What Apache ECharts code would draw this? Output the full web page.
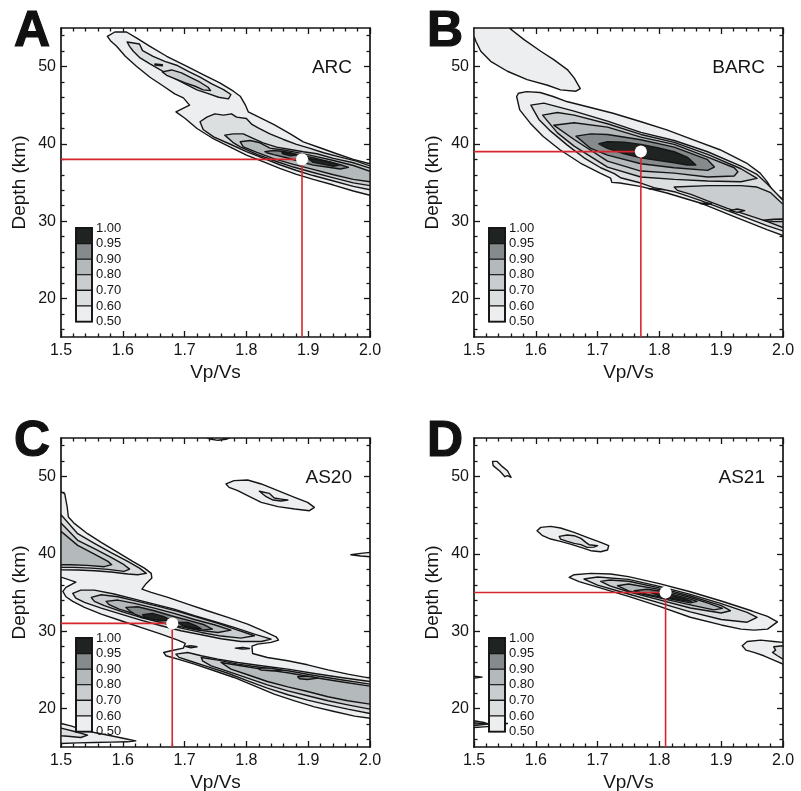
<!DOCTYPE html>
<html>
<head>
<meta charset="utf-8">
<script src="https://cdn.jsdelivr.net/npm/echarts@6/dist/echarts.min.js"></script>
<style>
html,body{margin:0;padding:0;background:#ffffff;}
#chart{width:801px;height:791px;}
</style>
</head>
<body>
<div id="chart"></div>
<script>
// ---------------- data ----------------
const LEVELS = [0.5, 0.6, 0.7, 0.8, 0.9, 0.95];
const LEVEL_COLORS = ['#eceeef', '#dcdfe0', '#c9cdcf', '#b4b9bb', '#858a8c', '#1f2321'];
const LEGEND_LABELS = ['1.00', '0.95', '0.90', '0.80', '0.70', '0.60', '0.50'];
const X_RANGE = [1.5, 2.0];
const X_STEP = 0.1;
const Y_RANGE = [15, 55];
const Y_MAJOR = [20, 30, 40, 50];
const Y_MINOR = [16, 18, 22, 24, 26, 28, 32, 34, 36, 38, 42, 44, 46, 48, 52, 54];
const PANEL_LETTERS = ['A', 'B', 'C', 'D'];
const STATIONS = ['ARC', 'BARC', 'AS20', 'AS21'];
const BEST = [[1.89, 38], [1.77, 39], [1.68, 31], [1.81, 35]];

// Panel A (ARC) contour polygons [Vp/Vs, depth]
const A_50 = [[1.575,53.92],[1.587,54.48],[1.606,54.48],[1.622,53.71],[1.644,52.63],[1.671,51.34],[1.703,50.05],[1.730,48.97],[1.757,47.89],[1.779,46.82],[1.790,46.17],[1.798,45.09],[1.803,44.15],[1.817,43.59],[1.844,42.51],[1.871,41.30],[1.892,40.27],[1.919,39.50],[1.946,38.72],[1.973,37.99],[2.0,37.43],[2.0,33.35],[1.973,33.90],[1.941,34.67],[1.908,35.40],[1.881,36.05],[1.854,36.83],[1.827,37.69],[1.800,38.55],[1.774,39.58],[1.744,40.79],[1.720,41.99],[1.701,43.29],[1.686,44.15],[1.708,45.01],[1.698,45.96],[1.684,46.47],[1.666,47.46],[1.644,48.63],[1.622,50.05],[1.604,51.34],[1.590,52.63],[1.580,53.36]];
const A_60U = [[1.607,53.19],[1.627,52.93],[1.632,52.07],[1.649,51.34],[1.668,50.69],[1.687,50.18],[1.706,49.40],[1.725,48.63],[1.744,47.76],[1.763,47.03],[1.775,46.39],[1.771,45.83],[1.755,46.04],[1.736,46.56],[1.720,46.99],[1.701,47.76],[1.682,48.54],[1.663,49.49],[1.644,50.35],[1.628,51.12],[1.617,51.99],[1.611,52.63]];
const A_70U = [[1.664,49.32],[1.679,49.57],[1.695,49.19],[1.711,48.54],[1.725,47.98],[1.738,47.33],[1.742,46.90],[1.730,46.99],[1.717,47.46],[1.701,47.89],[1.684,48.45],[1.671,48.88]];
const A_70D = [[1.652,50.35],[1.664,50.25],[1.664,50.10],[1.652,50.20]];
const A_60 = [[1.725,42.86],[1.736,43.46],[1.749,43.89],[1.763,43.72],[1.776,43.89],[1.784,43.46],[1.800,43.29],[1.809,42.51],[1.819,42.08],[1.838,41.30],[1.860,40.57],[1.881,39.93],[1.903,39.41],[1.925,38.85],[1.952,38.29],[1.978,37.77],[2.0,37.15],[2.0,34.05],[1.973,34.5],[1.941,35.2],[1.908,35.9],[1.881,36.55],[1.854,37.3],[1.827,38.15],[1.800,39.0],[1.774,39.95],[1.747,40.9],[1.730,41.86]];
const A_70 = [[1.765,41.13],[1.779,41.30],[1.795,41.30],[1.809,40.79],[1.827,40.14],[1.849,39.58],[1.871,39.28],[1.892,38.98],[1.914,38.72],[1.941,38.12],[1.973,37.56],[2.0,36.85],[2.0,34.6],[1.973,34.95],[1.941,35.6],[1.908,36.3],[1.876,37.0],[1.844,37.85],[1.817,38.65],[1.790,39.6],[1.778,40.2]];
const A_80 = [[1.790,40.27],[1.806,40.44],[1.822,40.14],[1.838,39.45],[1.860,39.2],[1.881,38.9],[1.908,38.45],[1.941,37.85],[1.973,37.2],[2.0,36.45],[2.0,35.1],[1.973,35.4],[1.941,36.0],[1.908,36.7],[1.876,37.35],[1.844,38.1],[1.817,38.9],[1.795,39.6]];
const A_90 = [[1.830,39.0],[1.844,39.15],[1.857,39.05],[1.871,38.85],[1.887,38.55],[1.908,38.2],[1.930,37.75],[1.952,37.3],[1.965,36.95],[1.952,36.75],[1.930,37.0],[1.908,37.25],[1.887,37.7],[1.865,38.2],[1.844,38.6],[1.833,38.85]];
const A_95A = [[1.857,38.95],[1.873,38.75],[1.881,38.55],[1.871,38.46],[1.859,38.72]];
const A_95B = [[1.900,38.1],[1.919,37.9],[1.935,37.65],[1.950,37.25],[1.941,37.1],[1.925,37.35],[1.908,37.6]];

// Panel B (BARC)
const B_TL = [[1.5,55],[1.557,55],[1.581,53.49],[1.608,51.99],[1.629,50.91],[1.651,49.62],[1.662,48.54],[1.672,47.16],[1.665,46.82],[1.640,46.99],[1.619,47.59],[1.586,48.32],[1.554,49.40],[1.527,50.69],[1.511,51.99],[1.503,53.28],[1.5,53.92]];
const B_50 = [[1.569,46.13],[1.572,46.56],[1.585,46.77],[1.607,46.65],[1.628,46.13],[1.650,45.48],[1.682,44.84],[1.725,43.97],[1.769,42.90],[1.812,41.82],[1.855,40.53],[1.898,39.24],[1.941,37.52],[1.963,36.22],[1.974,35.15],[1.984,33.85],[2.0,32.78],[2.0,28.13],[1.974,28.90],[1.920,30.62],[1.866,32.35],[1.812,33.64],[1.769,34.50],[1.736,34.93],[1.723,35.02],[1.721,35.58],[1.704,36.22],[1.672,37.52],[1.639,39.24],[1.612,40.96],[1.591,42.68],[1.574,44.41]];
const B_60 = [[1.592,45.01],[1.613,45.27],[1.662,44.23],[1.716,42.94],[1.770,41.48],[1.824,40.44],[1.878,38.98],[1.932,37.13],[1.958,36.05],[1.975,34.76],[2.0,32.69],[2.0,28.73],[1.974,29.42],[1.920,31.06],[1.866,32.69],[1.824,33.81],[1.791,34.33],[1.770,34.93],[1.737,35.62],[1.727,36.14],[1.705,36.91],[1.678,38.20],[1.651,39.84],[1.624,41.65],[1.605,43.16]];
const B_70 = [[1.611,43.72],[1.635,44.06],[1.662,43.72],[1.716,42.60],[1.770,41.22],[1.824,40.19],[1.878,38.63],[1.932,36.78],[1.958,35.53],[1.932,35.10],[1.878,35.19],[1.824,35.40],[1.770,35.71],[1.716,37.00],[1.662,39.71],[1.635,41.43]];
const B_70BAND = [[1.824,34.41],[1.878,34.59],[1.932,34.59],[1.958,34.41],[1.980,33.68],[2.0,32.17],[2.0,29.16],[1.975,29.94],[1.942,30.80],[1.910,31.66],[1.878,32.61],[1.851,33.47],[1.829,33.98]];
const B_80 = [[1.629,42.42],[1.662,42.73],[1.716,42.17],[1.770,40.87],[1.824,39.93],[1.878,38.29],[1.921,36.91],[1.927,36.40],[1.921,35.84],[1.878,35.71],[1.824,36.22],[1.770,36.48],[1.716,37.77],[1.662,40.57]];
const B_90 = [[1.665,41.00],[1.689,41.30],[1.716,41.22],[1.770,40.53],[1.824,39.58],[1.878,37.95],[1.889,37.00],[1.878,36.57],[1.824,36.91],[1.770,37.43],[1.716,38.55],[1.689,39.41]];
const B_95 = [[1.702,40.01],[1.716,40.27],[1.743,40.23],[1.770,39.93],[1.797,39.50],[1.824,38.98],[1.845,38.29],[1.859,37.26],[1.845,37.26],[1.824,37.56],[1.797,37.86],[1.770,38.20],[1.743,38.72],[1.716,39.41]];
const B_D1 = [[1.783,34.20],[1.796,34.18],[1.808,34.08],[1.796,34.08]];
const B_D2 = [[1.866,32.27],[1.875,32.38],[1.884,32.25],[1.875,32.15]];
const B_D3 = [[1.914,31.36],[1.926,31.57],[1.938,31.36],[1.926,31.14]];
const B_D4 = [[1.968,30.11],[1.985,30.24],[2.0,30.28],[2.0,29.94],[1.985,29.94]];

// Panel C (AS20)
const C_50 = [[1.5,48.01],[1.506,47.79],[1.510,46.07],[1.512,44.77],[1.522,43.91],[1.543,42.61],[1.565,41.49],[1.592,40.19],[1.616,39.03],[1.635,38.16],[1.646,37.47],[1.647,36.87],[1.638,36.18],[1.631,35.44],[1.646,35.01],[1.673,34.36],[1.705,33.50],[1.737,32.64],[1.770,31.77],[1.802,30.91],[1.829,29.96],[1.848,29.27],[1.852,28.84],[1.840,28.54],[1.818,28.32],[1.809,28.06],[1.810,27.11],[1.834,26.59],[1.867,26.16],[1.899,25.64],[1.932,24.99],[1.964,24.43],[2.0,23.92],[2.0,18.73],[1.975,18.99],[1.942,19.60],[1.910,20.20],[1.878,20.98],[1.845,21.84],[1.813,22.92],[1.780,24.00],[1.748,24.87],[1.716,25.73],[1.689,26.38],[1.670,26.81],[1.666,27.24],[1.678,27.46],[1.698,27.80],[1.701,28.41],[1.689,28.84],[1.662,29.62],[1.629,30.48],[1.597,31.34],[1.565,32.21],[1.538,33.07],[1.519,33.85],[1.508,34.45],[1.503,35.14],[1.508,35.66],[1.524,36.35],[1.5,37.00]];
const C_UL60 = [[1.5,45.07],[1.527,42.61],[1.554,41.36],[1.581,40.15],[1.608,39.03],[1.627,38.16],[1.638,37.47],[1.624,37.30],[1.608,37.39],[1.581,37.65],[1.554,37.82],[1.527,37.91],[1.5,37.95]];
const C_UL70 = [[1.5,43.99],[1.527,41.75],[1.554,40.67],[1.581,39.55],[1.602,38.60],[1.611,38.03],[1.602,37.73],[1.576,37.99],[1.549,38.16],[1.522,38.25],[1.5,38.25]];
const C_UL80 = [[1.5,42.91],[1.527,41.10],[1.554,39.98],[1.576,39.03],[1.582,38.60],[1.570,38.34],[1.543,38.51],[1.516,38.60],[1.5,38.60]];
const C_M60 = [[1.519,34.88],[1.532,35.31],[1.554,35.31],[1.586,34.80],[1.619,34.15],[1.651,33.50],[1.683,32.85],[1.716,31.99],[1.748,31.25],[1.780,30.48],[1.813,29.62],[1.840,28.97],[1.824,28.66],[1.791,28.66],[1.759,29.01],[1.727,29.53],[1.694,30.05],[1.662,30.70],[1.629,31.43],[1.597,32.21],[1.565,32.98],[1.538,33.72],[1.524,34.28]];
const C_M70 = [[1.549,34.36],[1.565,34.71],[1.592,34.45],[1.624,33.85],[1.656,33.24],[1.689,32.55],[1.721,31.77],[1.754,31.00],[1.786,30.13],[1.813,29.40],[1.791,29.10],[1.759,29.36],[1.727,29.83],[1.694,30.39],[1.662,31.13],[1.629,31.77],[1.597,32.55],[1.570,33.29],[1.554,33.85]];
const C_M80 = [[1.573,33.85],[1.592,34.02],[1.619,33.59],[1.651,32.98],[1.683,32.29],[1.716,31.51],[1.748,30.82],[1.775,30.13],[1.754,29.83],[1.721,30.13],[1.689,30.70],[1.656,31.34],[1.624,32.12],[1.594,32.85],[1.578,33.42]];
const C_M90 = [[1.605,33.07],[1.624,33.16],[1.651,32.64],[1.678,31.99],[1.705,31.43],[1.732,30.82],[1.745,30.26],[1.727,30.13],[1.700,30.48],[1.673,30.91],[1.646,31.43],[1.621,32.12],[1.611,32.64]];
const C_M95A = [[1.632,32.12],[1.648,32.29],[1.667,31.86],[1.678,31.43],[1.662,31.34],[1.646,31.56],[1.636,31.77]];
const C_M95B = [[1.689,31.13],[1.705,31.13],[1.718,30.70],[1.727,30.30],[1.713,30.40],[1.697,30.70]];
const C_S1 = [[1.701,28.02],[1.710,28.10],[1.720,27.97],[1.710,27.84]];
const C_S2 = [[1.782,27.80],[1.794,27.89],[1.805,27.76],[1.794,27.67]];
const C_L60 = [[1.686,27.02],[1.705,27.24],[1.727,26.81],[1.754,26.38],[1.786,25.94],[1.824,25.51],[1.867,25.08],[1.910,24.52],[1.953,24.00],[2.0,23.48],[2.0,19.34],[1.964,19.90],[1.932,20.46],[1.899,21.07],[1.867,21.76],[1.834,22.62],[1.802,23.57],[1.770,24.55],[1.737,25.40],[1.710,26.10],[1.691,26.60]];
const C_L70 = [[1.727,26.59],[1.754,26.25],[1.786,25.73],[1.824,25.30],[1.867,24.87],[1.910,24.26],[1.953,23.70],[2.0,23.14],[2.0,19.90],[1.964,20.46],[1.932,20.98],[1.899,21.63],[1.867,22.27],[1.834,23.05],[1.802,23.92],[1.770,24.78],[1.743,25.51],[1.729,26.16]];
const C_L80 = [[1.759,25.94],[1.791,25.51],[1.824,25.08],[1.867,24.61],[1.910,24.00],[1.953,23.44],[2.0,22.88],[2.0,20.55],[1.964,20.98],[1.932,21.50],[1.899,22.19],[1.867,22.79],[1.834,23.48],[1.802,24.35],[1.775,25.08]];
const C_L90A = [[1.818,25.21],[1.840,25.21],[1.857,24.95],[1.840,24.87],[1.824,24.95]];
const C_L90B = [[1.883,24.09],[1.899,24.17],[1.916,23.92],[1.899,23.74],[1.886,23.83]];
const C_UR50 = [[1.767,49.05],[1.780,49.48],[1.802,49.56],[1.824,49.05],[1.851,48.18],[1.878,47.32],[1.899,46.67],[1.910,46.02],[1.902,45.59],[1.878,45.81],[1.851,46.11],[1.824,46.67],[1.802,47.53],[1.786,48.18],[1.772,48.61]];
const C_UR60 = [[1.821,48.10],[1.837,47.84],[1.845,47.23],[1.859,47.06],[1.867,46.97],[1.856,46.84],[1.843,46.97],[1.832,47.40]];
const C_TOP = [[1.737,55],[1.772,55],[1.767,54.83],[1.754,54.70],[1.743,54.83]];
const C_RIGHT = [[1.969,39.89],[1.985,40.06],[2.0,40.19],[2.0,39.63],[1.985,39.72]];
const C_BL50 = [[1.5,18.04],[1.516,17.74],[1.532,17.31],[1.554,16.88],[1.581,16.45],[1.608,16.01],[1.621,15.80],[1.608,15.67],[1.581,15.63],[1.554,15.58],[1.527,15.54],[1.5,15.45]];
const C_BL60 = [[1.5,17.44],[1.522,17.01],[1.543,16.53],[1.532,16.23],[1.511,16.40],[1.5,16.45]];

// Panel D (AS21)
const D_50 = [[1.654,36.96],[1.662,37.30],[1.689,37.47],[1.721,37.39],[1.75,37.05],[1.80,36.15],[1.85,35.1],[1.90,33.9],[1.95,32.6],[1.975,31.9],[1.991,31.2],[1.975,30.26],[1.953,30.13],[1.932,30.26],[1.90,30.8],[1.85,31.8],[1.80,33.2],[1.75,34.5],[1.70,35.7],[1.67,36.4]];
const D_60 = [[1.678,36.74],[1.70,37.0],[1.75,36.7],[1.80,35.8],[1.85,34.75],[1.90,33.55],[1.942,32.42],[1.958,31.77],[1.942,31.15],[1.90,31.5],[1.85,32.5],[1.80,33.65],[1.75,34.8],[1.70,35.95]];
const D_70 = [[1.705,36.44],[1.72,36.62],[1.75,36.45],[1.80,35.6],[1.85,34.55],[1.90,33.3],[1.915,32.64],[1.90,32.35],[1.85,33.0],[1.80,34.05],[1.75,35.1],[1.72,35.85]];
const D_80 = [[1.732,35.88],[1.75,36.1],[1.80,35.4],[1.85,34.35],[1.88,33.6],[1.902,32.95],[1.888,32.75],[1.85,33.4],[1.80,34.3],[1.75,35.2]];
const D_90 = [[1.759,35.23],[1.78,35.42],[1.80,35.2],[1.85,34.15],[1.861,33.85],[1.85,33.65],[1.80,34.45],[1.78,34.75]];
const D_95 = [[1.786,35.0],[1.80,35.0],[1.82,34.6],[1.84,34.2],[1.852,33.85],[1.84,33.95],[1.82,34.25],[1.80,34.6]];
const D_TOP = [[1.530,51.98],[1.537,51.98],[1.546,51.29],[1.554,50.77],[1.557,50.34],[1.560,49.91],[1.554,50.12],[1.550,49.99],[1.542,50.69],[1.531,51.42]];
const D_MID50 = [[1.602,43.00],[1.608,43.43],[1.624,43.56],[1.640,43.35],[1.662,42.78],[1.683,42.14],[1.705,41.49],[1.718,41.06],[1.716,40.50],[1.705,40.28],[1.689,40.41],[1.673,40.84],[1.656,41.27],[1.640,41.62],[1.624,41.92],[1.611,42.35]];
const D_MID60 = [[1.638,42.27],[1.651,42.44],[1.662,42.35],[1.673,42.01],[1.681,41.49],[1.686,41.19],[1.700,41.06],[1.694,40.88],[1.683,40.84],[1.673,41.19],[1.662,41.36],[1.651,41.62],[1.640,41.92]];
const D_R50 = [[1.934,28.10],[1.942,28.66],[1.964,28.84],[1.985,28.66],[2.0,28.54],[2.0,25.73],[1.985,26.25],[1.969,26.81],[1.953,27.24],[1.940,27.54]];
const D_R60 = [[1.985,27.97],[2.0,28.10],[2.0,26.38],[1.991,26.81],[1.983,27.24],[1.988,27.54]];
const D_BL50 = [[1.5,18.39],[1.516,18.17],[1.524,17.96],[1.554,18.04],[1.532,17.70],[1.516,17.61],[1.5,17.53]];
const D_BL90 = [[1.5,18.13],[1.522,17.96],[1.5,17.78]];
const D_LEFT = [[1.5,24.17],[1.513,24.04],[1.5,23.92]];

// contour tables per panel: [level, polygon]
const PANEL_A = [[0.5, A_50], [0.6, A_60U], [0.7, A_70U], [0.7, A_70D], [0.6, A_60], [0.7, A_70], [0.8, A_80], [0.9, A_90], [0.95, A_95A], [0.95, A_95B]];
const PANEL_B = [[0.5, B_TL], [0.5, B_50], [0.6, B_60], [0.6, B_D1], [0.6, B_D2], [0.7, B_70], [0.7, B_70BAND], [0.8, B_D3], [0.8, B_D4], [0.8, B_80], [0.9, B_90], [0.95, B_95]];
const PANEL_C = [[0.5, C_50], [0.5, C_UR50], [0.5, C_TOP], [0.5, C_RIGHT], [0.5, C_BL50], [0.6, C_BL60], [0.6, C_UR60], [0.6, C_UL60], [0.7, C_UL70], [0.8, C_UL80], [0.6, C_M60], [0.7, C_M70], [0.8, C_M80], [0.9, C_M90], [0.95, C_M95A], [0.95, C_M95B], [0.6, C_S1], [0.6, C_S2], [0.6, C_L60], [0.7, C_L70], [0.8, C_L80], [0.9, C_L90A], [0.9, C_L90B]];
const PANEL_D = [[0.5, D_TOP], [0.5, D_MID50], [0.6, D_MID60], [0.5, D_50], [0.6, D_60], [0.7, D_70], [0.8, D_80], [0.9, D_90], [0.95, D_95], [0.5, D_R50], [0.6, D_R60], [0.5, D_BL50], [0.9, D_BL90], [0.5, D_LEFT]];
const PANELS = [PANEL_A, PANEL_B, PANEL_C, PANEL_D];

// ---------------- layout / style ----------------
const GRID_POS = [[61, 28], [474, 28], [61, 438], [474, 438]];
const GRID_SIZE = 309;
const FONT = '"Liberation Sans", Arial, Helvetica, sans-serif';
const INK = '#151515';
const RED = '#d8262f';

const chart = echarts.init(document.getElementById('chart'), null, {renderer: 'canvas'});
const option = {animation: false, backgroundColor: '#ffffff', grid: [], xAxis: [], yAxis: [], series: [], graphic: []};

function levelColor(l) { return LEVEL_COLORS[LEVELS.indexOf(l)]; }

PANELS.forEach(function (polys, g) {
  const gl = GRID_POS[g][0], gt = GRID_POS[g][1];
  option.grid.push({left: gl, top: gt, width: GRID_SIZE, height: GRID_SIZE, containLabel: false, outerBoundsMode: 'none', show: false});
  const axisLine = {show: true, onZero: false, lineStyle: {color: INK, width: 1.7}};
  const tickLine = {color: INK, width: 1.3};
  const xCommon = {
    type: 'value', gridIndex: g, min: X_RANGE[0], max: X_RANGE[1], interval: X_STEP,
    splitLine: {show: false}, minorSplitLine: {show: false}, axisLine: axisLine,
    axisTick: {show: true, inside: true, length: 6, lineStyle: tickLine},
    minorTick: {show: true, splitNumber: 5, length: 3.5, lineStyle: tickLine}
  };
  option.xAxis.push(Object.assign({}, xCommon, {
    position: 'bottom',
    axisLabel: {show: true, margin: 6, fontSize: 16, color: INK, fontFamily: FONT, formatter: function (v) { return v.toFixed(1); }},
    name: 'Vp/Vs', nameLocation: 'middle', nameGap: 26,
    nameTextStyle: {fontSize: 19, color: INK, fontFamily: FONT}
  }));
  option.xAxis.push(Object.assign({}, xCommon, {position: 'top', axisLabel: {show: false}}));
  const yCommon = {type: 'value', gridIndex: g, min: Y_RANGE[0], max: Y_RANGE[1], splitLine: {show: false}};
  option.yAxis.push(Object.assign({}, yCommon, {
    position: 'left', axisLine: axisLine,
    axisTick: {show: true, inside: true, length: 6, lineStyle: tickLine, customValues: Y_MAJOR},
    axisLabel: {show: true, customValues: Y_MAJOR, margin: 5, fontSize: 16, color: INK, fontFamily: FONT},
    name: 'Depth (km)', nameLocation: 'middle', nameGap: 32,
    nameTextStyle: {fontSize: 19, color: INK, fontFamily: FONT}
  }));
  option.yAxis.push(Object.assign({}, yCommon, {
    position: 'left', axisLine: {show: false},
    axisTick: {show: true, inside: true, length: 3.5, lineStyle: tickLine, customValues: Y_MINOR},
    axisLabel: {show: false, customValues: Y_MINOR}
  }));
  option.yAxis.push(Object.assign({}, yCommon, {
    position: 'right', axisLine: axisLine,
    axisTick: {show: true, inside: true, length: 6, lineStyle: tickLine, customValues: Y_MAJOR},
    axisLabel: {show: false, customValues: Y_MAJOR}
  }));
  option.yAxis.push(Object.assign({}, yCommon, {
    position: 'right', axisLine: {show: false},
    axisTick: {show: true, inside: true, length: 3.5, lineStyle: tickLine, customValues: Y_MINOR},
    axisLabel: {show: false, customValues: Y_MINOR}
  }));

  const xi = 2 * g, yi = 4 * g;
  const sorted = polys.map(function (p, i) { return {p: p, i: i}; })
    .sort(function (a, b) { return (a.p[0] - b.p[0]) || (a.i - b.i); })
    .map(function (o) { return o.p; });
  option.series.push({
    type: 'custom', xAxisIndex: xi, yAxisIndex: yi, silent: true, clip: true, z: 2,
    data: sorted.map(function (p, i) { return [p[1][0][0], p[1][0][1], i]; }),
    renderItem: function (params, api) {
      const p = sorted[api.value(2)];
      const pts = p[1].map(function (pt) { return api.coord(pt); });
      return {type: 'polygon', shape: {points: pts},
        style: {fill: levelColor(p[0]), stroke: INK, lineWidth: 1.4, lineJoin: 'round'}};
    }
  });
  const b = BEST[g];
  option.series.push({
    type: 'line', xAxisIndex: xi, yAxisIndex: yi, silent: true, z: 5, symbol: 'none',
    data: [[X_RANGE[0], b[1]], [b[0], b[1]], [b[0], Y_RANGE[0]]],
    lineStyle: {color: RED, width: 1.6}
  });
  option.series.push({
    type: 'scatter', xAxisIndex: xi, yAxisIndex: yi, silent: true, z: 6,
    data: [b], symbol: 'circle', symbolSize: 12,
    itemStyle: {color: '#ffffff', borderColor: '#ffffff', borderWidth: 0, opacity: 1}
  });

  // panel letter and station label
  option.graphic.push({type: 'text', x: gl - 47, y: gt + 4, z: 100,
    style: {text: PANEL_LETTERS[g], fontSize: 50, fontWeight: 'bold', fontFamily: FONT, fill: '#111111', stroke: '#111111', lineWidth: 1.2, align: 'left', verticalAlign: 'middle'}});
  option.graphic.push({type: 'text', x: gl + 291, y: gt + 40, z: 100,
    style: {text: STATIONS[g], fontSize: 19, fontFamily: FONT, fill: INK, align: 'right', verticalAlign: 'middle'}});

  // colour-scale legend
  const lx = gl + 15, ly = gt + 200, lw = 16, bandH = 15.6;
  for (let i = 0; i < LEVELS.length; i++) {
    option.graphic.push({type: 'rect', z: 100,
      shape: {x: lx, y: ly + i * bandH, width: lw, height: bandH},
      style: {fill: LEVEL_COLORS[LEVELS.length - 1 - i], stroke: INK, lineWidth: 1.1}});
  }
  option.graphic.push({type: 'rect', z: 101,
    shape: {x: lx, y: ly, width: lw, height: bandH * LEVELS.length},
    style: {fill: 'none', stroke: INK, lineWidth: 1.9}});
  LEGEND_LABELS.forEach(function (t, i) {
    option.graphic.push({type: 'text', z: 101, x: lx + lw + 4, y: ly + i * bandH,
      style: {text: t, fontSize: 13, fontFamily: FONT, fill: INK, align: 'left', verticalAlign: 'middle'}});
  });
});

chart.setOption(option);
</script>
</body>
</html>
